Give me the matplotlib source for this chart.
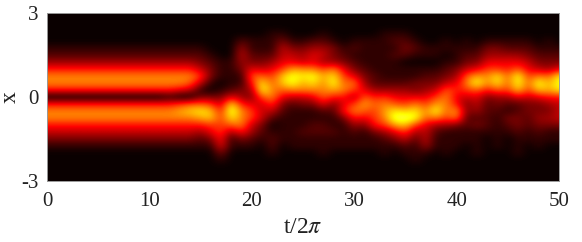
import numpy as np
import matplotlib
matplotlib.use('Agg')
import matplotlib.pyplot as plt

plt.rcParams['font.family'] = ['Liberation Serif', 'DejaVu Serif']
plt.rcParams['mathtext.fontset'] = 'stix'

# density, one string per t = 0..50
# hex digit per x = 3 down to -3 in steps of 0.25
t_values = np.arange(0, 51)
x_values = np.arange(3, -3.25, -0.25)
density_columns = [
    "00000124 7aa70 7aa7 53100000",
    "00000124 7aa70 7aa7 53100000",
    "00000124 7aa70 7aa7 53100000",
    "00000124 7aa70 7aa7 53100000",
    "00000124 7aa70 7aa7 53100000",
    "00000124 7aa70 7aa7 53100000",
    "00000124 7aa70 7aa7 53100000",
    "00000124 7aa70 7aa7 53100000",
    "00000124 7aa70 7aa7 53100000",
    "00000124 7aa70 7aa7 53100000",
    "00000124 7aa70 7aa7 53100000",
    "00000124 7aa70 7aa7 53100000",
    "00000124 7aa71 7aa7 53100000",
    "00000124 7aa60 8ba7 53100000",
    "00000124 7a950 9ca7 53100000",
    "00000123 58513 9db7 42100000",
    "00000012 33103 8cc8 63100000",
    "00000001 11013 5788 87631000",
    "00000001 11126 dfd9 41100000",
    "00002454 31134 7aaa 73100000",
    "00001123 69743 6885 42100000",
    "00001123 59de9 5553 21000000",
    "00011124 689aa 8520 12210000",
    "00013556 8cc96 3211 11000000",
    "00001356 beea5 2111 11100000",
    "00001345 adba5 3111 21100000",
    "00002466 aeda6 3112 21100000",
    "00012454 8baa9 6212 21110000",
    "00001334 adeb7 3211 21100000",
    "00000123 689a7 6731 11100000",
    "00001212 36a84 8a74 21100000",
    "00001111 23469 b963 11100000",
    "00001111 12247 9887 31100000",
    "00011111 11248 aba8 42110000",
    "00012121 11246 9dfb 63100000",
    "00012320 11246 8cfc 85210000",
    "00001210 11336 ade8 42111000",
    "00000110 12346 8a96 55410000",
    "00000110 12358 bea4 21100000",
    "00001101 2359a a984 11110000",
    "00000111 34676 7ba3 11100000",
    "00001123 59a85 3322 11000000",
    "00000123 6be96 5423 11110000",
    "00001346 8aa73 2222 10000000",
    "00001346 8dd94 3211 11100000",
    "00001246 79984 2132 10000000",
    "00001246 9eec6 2233 21110000",
    "00001235 68985 3322 11000000",
    "00000123 5aec6 3343 21100000",
    "00001123 49bb7 4343 11000000",
    "00000123 6ded7 5553 11000000",
]
x_ticks = [0, 10, 20, 30, 40, 50]
y_ticks = [-3, 0, 3]
y_tick_labels = ['-3', '0', '3']


def build_image(columns):
    grid = [[int(c, 16) for c in col.replace(' ', '')] for col in columns]
    return np.array(grid, dtype=float).T


def plot_data(image):
    fig = plt.figure(figsize=(5.82, 2.42), dpi=100)
    ax = fig.add_axes([47 / 582, 1 - 181 / 242, 512 / 582, 168 / 242])
    ax.imshow(image, cmap='hot', vmin=0, vmax=18, aspect='auto',
              interpolation='bicubic',
              extent=[t_values[0] - 0.5, t_values[-1] + 0.5,
                      x_values[-1] - 0.125, x_values[0] + 0.125])
    ax.set_xlim(0, 50)
    ax.set_ylim(-3, 3)
    ax.set_xticks(x_ticks)
    ax.set_yticks(y_ticks)
    ax.set_yticklabels(y_tick_labels)
    ax.tick_params(length=0, labelsize=15, colors='#222222')
    ax.tick_params(axis='x', pad=8)
    ax.tick_params(axis='y', pad=6)
    for s in ax.spines.values():
        s.set_color('#999999')
        s.set_linewidth(0.7)
    ax.set_xlabel(r't/2$\pi$', fontsize=17, color='#222222', labelpad=4)
    ax.set_ylabel('x', fontsize=17, color='#222222', labelpad=0)
    fig.savefig('out.png', dpi=100)


if __name__ == "__main__":
    plot_data(build_image(density_columns))
